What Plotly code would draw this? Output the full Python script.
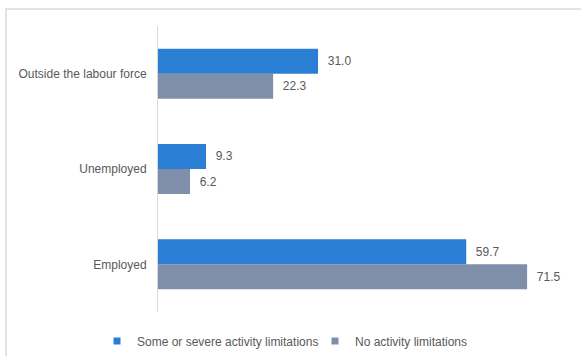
import plotly.graph_objects as go

categories = ["Employed", "Unemployed", "Outside the labour force"]
some_severe = [59.7, 9.3, 31.0]
no_limit = [71.5, 6.2, 22.3]
series_names = ["Some or severe activity limitations", "No activity limitations"]
colors = ["#2A7FD5", "#7F8FA9"]

L, R, T, B = 158, 10, 26, 44
W, H = 581, 356

fig = go.Figure()
fig.add_trace(go.Bar(
    y=categories, x=no_limit, orientation="h", name=series_names[1],
    marker=dict(color=colors[1], line=dict(width=0)),
    text=[f"{v:.1f}" for v in no_limit], textposition="outside",
    texttemplate="  %{text}", cliponaxis=False,
    textfont=dict(color="#595959", size=12, family="Liberation Sans"),
    showlegend=False, legendgroup="b",
))
fig.add_trace(go.Bar(
    y=categories, x=some_severe, orientation="h", name=series_names[0],
    marker=dict(color=colors[0], line=dict(width=0)),
    text=[f"{v:.1f}" for v in some_severe], textposition="outside",
    texttemplate="  %{text}", cliponaxis=False,
    textfont=dict(color="#595959", size=12, family="Liberation Sans"),
    showlegend=False, legendgroup="a",
))
# legend keys (small square swatches as in the reference)
for name, col, grp, lg in [(series_names[0], colors[0], "a", "legend"),
                           (series_names[1], colors[1], "b", "legend2")]:
    fig.add_trace(go.Scatter(
        x=[None], y=[None], mode="markers", name=name, legendgroup=grp,
        marker=dict(symbol="square", size=7, color=col), legend=lg,
    ))

pw = W - L - R
ph = H - T - B
fig.add_shape(type="rect", xref="paper", yref="paper",
              x0=(6 - L) / pw, x1=(W + 20 - L) / pw,
              y0=-(H + 20 - (H - B)) / ph, y1=((H - B) - 9) / ph,
              line=dict(color="#D9D9D9", width=1.5), layer="below")

leg_common = dict(orientation="h", xref="container", yref="container",
                  xanchor="left", y=(H - 341) / H, yanchor="middle",
                  font=dict(size=12, color="#595959"),
                  itemwidth=30, bgcolor="rgba(0,0,0,0)")

fig.update_layout(
    width=W, height=H,
    margin=dict(l=L, r=R, t=T, b=B, pad=0, autoexpand=False),
    paper_bgcolor="white", plot_bgcolor="white",
    barmode="group", bargap=0.475, bargroupgap=0,
    font=dict(family="Liberation Sans", size=12, color="#595959"),
    xaxis=dict(range=[0, 80], showgrid=False, zeroline=False,
               showticklabels=False, showline=False, ticks=""),
    yaxis=dict(showline=True, linecolor="#D9D9D9", linewidth=1,
               showgrid=False, ticks="", ticklabelstandoff=8,
               tickfont=dict(size=12, color="#595959")),
    legend=dict(x=97 / W, **leg_common),
    legend2=dict(x=315 / W, **leg_common),
    showlegend=True,
)

fig.write_html("out.html")
